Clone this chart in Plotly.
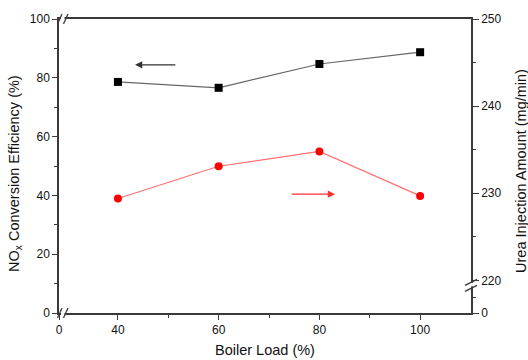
import plotly.graph_objects as go

# Boiler load (%) and measured results
boiler_load = [40, 60, 80, 100]
nox_efficiency = [78.6, 76.6, 84.7, 88.7]          # left axis, %
urea_amount = [229.4, 233.1, 234.8, 229.7]         # right axis, mg/min

# Axis ticks (broken axes: the "0" label sits at the start of each broken range)
x_ticks = [40, 60, 80, 100]
x_zero_pos = 28.3
x_range = [x_zero_pos, 110.1]
y_ticks = [0, 20, 40, 60, 80, 100]
y2_ticks = [220, 230, 240, 250]
y2_zero_pos = 216.26
y2_range = [y2_zero_pos, 250]

W, H = 528, 360
L, R, T, B = 59, 57, 15, 47
PW, PH = W - L - R, H - T - B

AXIS = "#3a3a3a"
FONT = "Liberation Sans, Arial, sans-serif"


def px(x):
    return (x - L) / PW


def py(y):
    return (H - B - y) / PH


fig = go.Figure()
fig.add_trace(go.Scatter(
    x=boiler_load, y=nox_efficiency, mode="lines+markers",
    line=dict(color="#666666", width=1.2),
    marker=dict(symbol="square", size=8, color="#000000"),
    showlegend=False, yaxis="y"))
fig.add_trace(go.Scatter(
    x=boiler_load, y=urea_amount, mode="lines+markers",
    line=dict(color="#ff7070", width=1.2),
    marker=dict(symbol="circle", size=8, color="#ff0000"),
    showlegend=False, yaxis="y2"))

tickfont = dict(family=FONT, size=12, color="#111111")

fig.update_layout(
    width=W, height=H, autosize=False,
    margin=dict(l=L, r=R, t=T, b=B),
    paper_bgcolor="white", plot_bgcolor="white",
    xaxis=dict(
        range=x_range, tickmode="array",
        tickvals=[x_zero_pos] + x_ticks,
        ticktext=["0"] + [str(v) for v in x_ticks],
        ticks="outside", ticklen=5, tickwidth=1.2, tickcolor=AXIS,
        minor=dict(tickvals=[50, 70, 90], ticks="outside", ticklen=3,
                   tickwidth=1.2, tickcolor=AXIS),
        showline=True, linecolor=AXIS, linewidth=1.5, mirror=True,
        showgrid=False, zeroline=False, tickfont=tickfont,
    ),
    yaxis=dict(
        range=[0, 100], tickmode="array", tickvals=y_ticks,
        ticks="outside", ticklen=5, tickwidth=1.2, tickcolor=AXIS,
        minor=dict(tickvals=[10, 30, 50, 70, 90], ticks="outside", ticklen=3,
                   tickwidth=1.2, tickcolor=AXIS),
        showline=True, linecolor=AXIS, linewidth=1.5,
        showgrid=False, zeroline=False, tickfont=tickfont,
    ),
    yaxis2=dict(
        range=y2_range, overlaying="y", side="right", tickmode="array",
        tickvals=[y2_zero_pos] + y2_ticks,
        ticktext=["0"] + [str(v) for v in y2_ticks],
        ticks="outside", ticklen=6, tickwidth=1.2, tickcolor=AXIS,
        minor=dict(tickvals=[218, 225, 235, 245], ticks="outside", ticklen=3,
                   tickwidth=1.2, tickcolor=AXIS),
        showline=True, linecolor=AXIS, linewidth=1.5,
        showgrid=False, zeroline=False, tickfont=tickfont,
    ),
)

title_font = dict(family=FONT, size=14.5, color="#111111")

# Axis titles
fig.add_annotation(text="Boiler Load (%)", xref="paper", yref="paper",
                   x=0.5, y=py(350), xanchor="center", yanchor="middle",
                   showarrow=False, font=title_font)
fig.add_annotation(text="NO<sub>x</sub> Conversion Efficiency (%)",
                   xref="paper", yref="paper", x=px(15), y=py(172),
                   xanchor="center", yanchor="middle",
                   textangle=-90, showarrow=False, font=title_font)
fig.add_annotation(text="Urea Injection Amount (mg/min)",
                   xref="paper", yref="paper", x=px(521), y=py(169),
                   xanchor="center", yanchor="middle",
                   textangle=-90, showarrow=False, font=title_font)

# Arrows pointing to each series' axis
fig.add_annotation(x=43.4, y=84.4, ax=51.7, ay=84.4, xref="x", yref="y",
                   axref="x", ayref="y", text="", showarrow=True,
                   arrowhead=2, arrowsize=1.2, arrowwidth=1.2,
                   arrowcolor="#333333")
fig.add_annotation(x=83.1, y=229.9, ax=74.2, ay=229.9, xref="x", yref="y2",
                   axref="x", ayref="y2", text="", showarrow=True,
                   arrowhead=2, arrowsize=1.2, arrowwidth=1.2,
                   arrowcolor="#ff3030")

# Axis break marks
shapes = []


def gap(x0, x1, y0, y1):
    shapes.append(dict(type="rect", xref="paper", yref="paper",
                       x0=px(x0), x1=px(x1), y0=py(y0), y1=py(y1),
                       fillcolor="white", line=dict(width=0), layer="above"))


def slash(x0, y0, x1, y1):
    shapes.append(dict(type="line", xref="paper", yref="paper",
                       x0=px(x0), y0=py(y0), x1=px(x1), y1=py(y1),
                       line=dict(color=AXIS, width=1.3), layer="above"))


for yb in (313, 15):
    gap(61, 64.5, yb - 2, yb + 2)
    slash(57.5, yb + 5, 62, yb - 5)
    slash(63.5, yb + 5, 68, yb - 5)

gap(469, 473.5, 282.5, 286)
slash(465, 285, 477, 279)
slash(465, 291, 477, 285)

fig.update_layout(shapes=shapes)

fig.write_html("out.html")
